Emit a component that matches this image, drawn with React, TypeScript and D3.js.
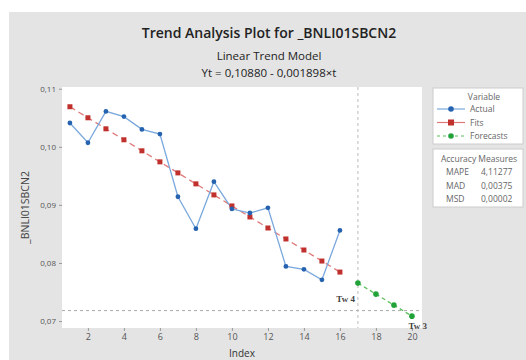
import React, { useEffect, useRef } from "react";
import * as d3 from "d3";

const actualIdx = [1, 2, 3, 4, 5, 6, 7, 8, 9, 10, 11, 12, 13, 14, 15, 16];
const actualVals = [0.1041, 0.1007, 0.1061, 0.1052, 0.103, 0.1022, 0.0914, 0.0859, 0.094, 0.0893, 0.0886, 0.0895, 0.0794, 0.0789, 0.0771, 0.0856];
const fitVals = [0.1069, 0.105, 0.1031, 0.10121, 0.09931, 0.09741, 0.09551, 0.09362, 0.09172, 0.08982, 0.08792, 0.08602, 0.08413, 0.08223, 0.08033, 0.07843];
const forecastIdx = [17, 18, 19, 20];
const forecastVals = [0.07653, 0.07464, 0.07274, 0.07084];
const yTicks = [0.07, 0.08, 0.09, 0.1, 0.11];
const xTicks = [2, 4, 6, 8, 10, 12, 14, 16, 18, 20];
const accuracy = [
  ["MAPE", "4,11277"],
  ["MAD", "0,00375"],
  ["MSD", "0,00002"],
];
const refY = 0.0718;
const refX = 17;

const font = "'Open Sans', 'DejaVu Sans', sans-serif";

const App = () => {
  const svgRef = useRef<SVGSVGElement>(null);

  useEffect(() => {
    const svg = d3.select(svgRef.current);
    svg.selectAll("*").remove();
    const W = 526, H = 360;
    const left = 62, right = 422, top = 87, bottom = 328;

    // gray background panel
    svg.append("rect").attr("x", 9).attr("y", 12).attr("width", W - 9).attr("height", H - 12).attr("fill", "#e4e4e4");

    const x = d3.scaleLinear().domain([0.56, 20.56]).range([left, right]);
    const y = d3.scaleLinear().domain([0.0688, 0.1103]).range([bottom, top]);

    svg.append("rect").attr("x", left).attr("y", top).attr("width", right - left).attr("height", bottom - top).attr("fill", "#fff");

    // titles
    const t = svg.append("g").attr("font-family", font).attr("fill", "#222").attr("text-anchor", "middle");
    t.append("text").attr("x", 269).attr("y", 38).attr("font-size", 14).attr("font-weight", 600).text("Trend Analysis Plot for _BNLI01SBCN2");
    t.append("text").attr("x", 269).attr("y", 60).attr("font-size", 11.5).text("Linear Trend Model");
    t.append("text").attr("x", 269).attr("y", 77).attr("font-size", 11.5).text("Yt = 0,10880 - 0,001898×t");

    // y axis
    const yAxis = svg.append("g").attr("transform", `translate(${left},0)`)
      .call(d3.axisLeft(y).tickValues(yTicks).tickSize(3).tickFormat((d) => d3.format(".2f")(d as number).replace(".", ",")));
    yAxis.select(".domain").remove();
    yAxis.selectAll("line").attr("stroke", "#999");
    yAxis.selectAll("text").attr("font-family", font).attr("font-size", 8).attr("fill", "#555");

    const xAxis = svg.append("g").attr("transform", `translate(0,${bottom})`)
      .call(d3.axisBottom(x).tickValues(xTicks).tickSize(3).tickPadding(3));
    xAxis.select(".domain").remove();
    xAxis.selectAll("line").attr("stroke", "#999");
    xAxis.selectAll("text").attr("font-family", font).attr("font-size", 9).attr("fill", "#555");

    svg.append("text").attr("x", (left + right) / 2).attr("y", 357).attr("text-anchor", "middle")
      .attr("font-family", font).attr("font-size", 10).attr("fill", "#333").text("Index");
    svg.append("text").attr("transform", `translate(29,${(top + bottom) / 2}) rotate(-90)`).attr("text-anchor", "middle")
      .attr("font-family", font).attr("font-size", 10.5).attr("fill", "#444").text("_BNLI01SBCN2");

    // reference lines
    svg.append("line").attr("x1", left).attr("x2", right).attr("y1", y(refY)).attr("y2", y(refY))
      .attr("stroke", "#aaa").attr("stroke-dasharray", "3,3");
    svg.append("line").attr("x1", x(refX)).attr("x2", x(refX)).attr("y1", top).attr("y2", bottom)
      .attr("stroke", "#bbb").attr("stroke-dasharray", "3,3");
    const tw = svg.append("g").attr("font-family", "'Liberation Serif', serif").attr("font-size", 9).attr("font-weight", "bold").attr("fill", "#444");
    tw.append("text").attr("x", x(refX) - 3).attr("y", 302).attr("text-anchor", "end").text("Tw 4");
    tw.append("text").attr("x", 427).attr("y", 329).attr("text-anchor", "end").text("Tw 3");

    const line = d3.line<[number, number]>().x((d) => x(d[0])).y((d) => y(d[1]));
    const actual: [number, number][] = actualIdx.map((i, k) => [i, actualVals[k]]);
    const fits: [number, number][] = actualIdx.map((i, k) => [i, fitVals[k]]);
    const fcs: [number, number][] = forecastIdx.map((i, k) => [i, forecastVals[k]]);

    svg.append("path").attr("d", line(fits)).attr("fill", "none").attr("stroke", "#e07a7a").attr("stroke-width", 1.3).attr("stroke-dasharray", "6,4");
    svg.append("path").attr("d", line(fcs)).attr("fill", "none").attr("stroke", "#5cc05c").attr("stroke-width", 1.3).attr("stroke-dasharray", "4,3");
    svg.append("path").attr("d", line(actual)).attr("fill", "none").attr("stroke", "#7aa8dc").attr("stroke-width", 1.3);

    svg.append("g").selectAll("rect").data(fits).enter().append("rect")
      .attr("x", (d) => x(d[0]) - 2.5).attr("y", (d) => y(d[1]) - 2.5).attr("width", 5).attr("height", 5).attr("fill", "#c0302c");
    svg.append("g").selectAll("circle").data(actual).enter().append("circle")
      .attr("cx", (d) => x(d[0])).attr("cy", (d) => y(d[1])).attr("r", 2.4).attr("fill", "#2563b0");
    svg.append("g").selectAll("circle").data(fcs).enter().append("circle")
      .attr("cx", (d) => x(d[0])).attr("cy", (d) => y(d[1])).attr("r", 2.8).attr("fill", "#22a33a");

    // legend
    const lg = svg.append("g").attr("font-family", font).attr("font-size", 8.5).attr("fill", "#666");
    lg.append("rect").attr("x", 433).attr("y", 88).attr("width", 90).attr("height", 56).attr("fill", "#fff").attr("stroke", "#ccc");
    lg.append("text").attr("x", 484).attr("y", 100).attr("text-anchor", "middle").text("Variable");
    const items = [
      { label: "Actual", color: "#7aa8dc", mark: "#2563b0", dash: "none", shape: "circle" },
      { label: "Fits", color: "#e07a7a", mark: "#c0302c", dash: "none", shape: "square" },
      { label: "Forecasts", color: "#5cc05c", mark: "#22a33a", dash: "3,3", shape: "circle" },
    ];
    items.forEach((it, i) => {
      const yy = 109 + i * 13.5;
      lg.append("line").attr("x1", 437).attr("x2", 465).attr("y1", yy).attr("y2", yy).attr("stroke", it.color).attr("stroke-width", 1.2).attr("stroke-dasharray", it.dash);
      if (it.shape === "square") lg.append("rect").attr("x", 448).attr("y", yy - 3).attr("width", 6).attr("height", 6).attr("fill", it.mark);
      else lg.append("circle").attr("cx", 451).attr("cy", yy).attr("r", 2.8).attr("fill", it.mark);
      lg.append("text").attr("x", 470).attr("y", yy + 3).text(it.label);
    });

    lg.append("rect").attr("x", 433).attr("y", 149).attr("width", 90).attr("height", 58).attr("fill", "#fff").attr("stroke", "#ccc");
    lg.append("text").attr("x", 479).attr("y", 162).attr("text-anchor", "middle").text("Accuracy Measures");
    accuracy.forEach(([k, v], i) => {
      const yy = 175 + i * 13.5;
      lg.append("text").attr("x", 446).attr("y", yy).text(k);
      lg.append("text").attr("x", 481).attr("y", yy).text(v);
    });
  }, []);

  return (
    <div style={{ position: "absolute", left: 0, top: 0 }}>
      <svg ref={svgRef} width={526} height={360} style={{ display: "block" }}></svg>
    </div>
  );
};

export default App;
